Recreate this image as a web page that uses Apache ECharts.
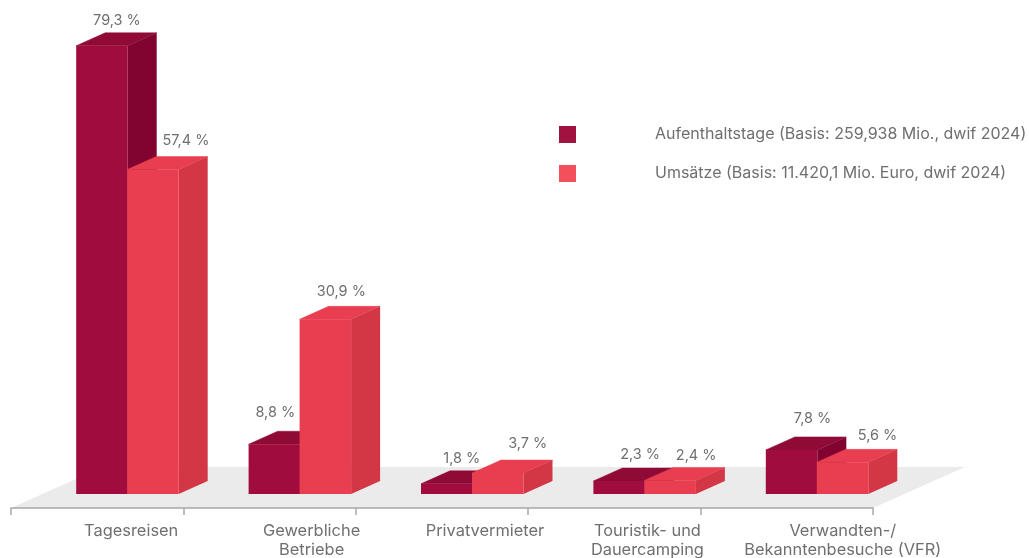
<!DOCTYPE html>
<html>
<head>
<meta charset="utf-8">
<title>Aufenthaltstage und Umsätze</title>
<style>
  html, body { margin: 0; padding: 0; background: #fff; }
  #chart { width: 1029px; height: 558px; }
</style>
<script src="https://cdn.jsdelivr.net/npm/echarts@6/dist/echarts.min.js"></script>
</head>
<body>
<div id="chart"></div>
<script>
const categories = ['Tagesreisen', 'Gewerbliche\nBetriebe', 'Privatvermieter', 'Touristik- und\nDauercamping', 'Verwandten-/\nBekanntenbesuche (VFR)'];
const aufenthaltstage = [79.3, 8.8, 1.8, 2.3, 7.8];
const umsaetze = [57.4, 30.9, 3.7, 2.4, 5.6];
const seriesNames = ['Aufenthaltstage (Basis: 259,938 Mio., dwif 2024)', 'Umsätze (Basis: 11.420,1 Mio. Euro, dwif 2024)'];

// labels were placed by hand in the original, so each one has its own shift
const categoryShift = [34, 42, 43, 33, 56];
const labelShiftDark = [[15, -25.5], [1, -31.5], [15, -25], [21, -26], [21, -31]];
const labelShiftRed = [[33, -29], [16, -28], [30, -29], [26, -25], [35, -26.5]];

const FONT = 'Inter';
const TEXT = '#6f6f6f';
const DEPTH_X = 29;
const DEPTH_Y = 13;
const BAR_WIDTH = 51.5;

const chart = echarts.init(document.getElementById('chart'));

function bar3d(colors, startOffset, labelShift) {
  return function (params, api) {
    const i = api.value(0);
    const v = api.value(1);
    const top = api.coord([i, v]);
    const base = api.coord([i, 0]);
    const x0 = top[0] + startOffset;
    const x1 = x0 + BAR_WIDTH;
    const y0 = top[1];
    const y1 = base[1];
    const shift = labelShift[i];
    return {
      type: 'group',
      children: [
        {
          type: 'polygon',
          shape: { points: [[x0, y0], [x0 + DEPTH_X, y0 - DEPTH_Y], [x1 + DEPTH_X, y0 - DEPTH_Y], [x1, y0]] },
          style: { fill: colors.top, stroke: colors.top, lineWidth: 0.5 }
        },
        {
          type: 'polygon',
          shape: { points: [[x1, y0], [x1 + DEPTH_X, y0 - DEPTH_Y], [x1 + DEPTH_X, y1 - DEPTH_Y], [x1, y1]] },
          style: { fill: colors.side }
        },
        {
          type: 'rect',
          shape: { x: x0, y: y0, width: BAR_WIDTH, height: y1 - y0 },
          style: { fill: colors.front }
        },
        {
          type: 'text',
          x: x0 + BAR_WIDTH / 2 + shift[0],
          y: y0 + shift[1],
          style: {
            text: String(v).replace('.', ',') + ' %',
            fill: TEXT,
            font: '14.5px ' + FONT,
            textAlign: 'center',
            textVerticalAlign: 'middle'
          }
        }
      ]
    };
  };
}

chart.setOption({
  animation: false,
  graphic: [{
    type: 'polygon',
    z: 0,
    shape: { points: [[11, 508], [103, 467], [965, 467], [873, 508]] },
    style: { fill: '#ebebeb' }
  }],
  legend: {
    left: 559,
    top: 126,
    padding: 0,
    orient: 'vertical',
    icon: 'rect',
    itemWidth: 17,
    itemHeight: 17,
    itemGap: 22,
    selectedMode: false,
    textStyle: { color: TEXT, fontFamily: FONT, fontSize: 16, padding: [0, 0, 0, 74] },
    data: [
      { name: seriesNames[0], itemStyle: { color: '#a0123f' } },
      { name: seriesNames[1], itemStyle: { color: '#f4505c' } }
    ]
  },
  // outerBoundsMode off, otherwise the two-line labels push the grid up
  grid: { left: 11, right: 156, top: 0, bottom: 64, outerBoundsMode: 'none' },
  xAxis: {
    type: 'category',
    data: categories.map((c, i) => ({ value: c, textStyle: { padding: [0, 0, 0, categoryShift[i] * 2] } })),
    offset: 14,
    axisLine: { onZero: false, lineStyle: { color: '#a8a8a8', width: 1.5 } },
    axisTick: { show: true, length: 7, lineStyle: { color: '#a8a8a8', width: 1.5 } },
    axisLabel: { color: TEXT, fontFamily: FONT, fontSize: 16.4, lineHeight: 19, margin: 14, interval: 0 }
  },
  yAxis: { type: 'value', min: 0, max: 87.4, show: false },
  series: [
    {
      name: seriesNames[0],
      type: 'custom',
      itemStyle: { color: '#a0123f' },
      encode: { x: 0, y: 1 },
      data: aufenthaltstage.map((v, i) => [i, v]),
      renderItem: bar3d({ front: '#9f0c3d', side: '#80042f', top: '#8f0b36' }, -21, labelShiftDark),
      clip: false
    },
    {
      name: seriesNames[1],
      type: 'custom',
      itemStyle: { color: '#f4505c' },
      encode: { x: 0, y: 1 },
      data: umsaetze.map((v, i) => [i, v]),
      renderItem: bar3d({ front: '#e83e50', side: '#d33746', top: '#e83e50' }, 30, labelShiftRed),
      clip: false
    }
  ]
});
</script>
</body>
</html>
